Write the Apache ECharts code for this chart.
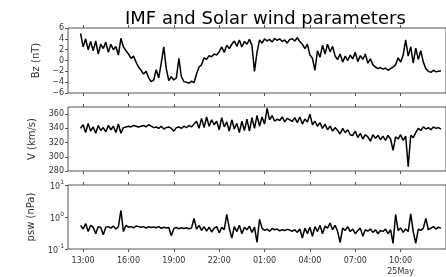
<!DOCTYPE html>
<html>
<head>
    <meta charset="utf-8" />
    <script src="https://cdn.jsdelivr.net/npm/echarts@6/dist/echarts.min.js"></script>
    <style type="text/css">
        html,
        body {
            width: 100%;
            height: 100%;
            margin: 0;
            background: #fff;
        }

        #main {
            width: 446px;
            height: 277px;
        }
    </style>
</head>
<body>
    <div id="main"></div>
    <script>
        // hours since 24 May 12:00, one sample every 10 min
        var startHour = 50 / 60;
        var stepHour = 1 / 6;

        var tickHours = [1, 4, 7, 10, 13, 16, 19, 22];
        var tickLabels = ['13:00', '16:00', '19:00', '22:00', '01:00', '04:00', '07:00', '10:00\n25May'];

        var bz = [
            5.0, 2.5, 4.0, 2.0, 3.5, 1.8,
            3.6, 1.2, 3.0, 2.2, 3.4, 1.5,
            3.0, 2.0, 2.6, 1.0, 4.1, 2.5,
            1.8, 1.2, 0.4, 0.8, -0.3, -1.2,
            -1.8, -2.5, -2.0, -3.2, -3.9, -3.6,
            -1.7, -3.2, -0.5, 2.5, -1.5, -3.7,
            -3.0, -3.6, -3.2, 0.4, -3.0, -3.9,
            -4.0, -4.2, -3.8, -4.1, -2.5, -1.2,
            -0.8, 0.5, 0.2, 0.9, 0.7, 1.2,
            1.0, 1.6, 2.5, 1.5, 2.8, 2.2,
            3.0, 3.6, 2.6, 3.8, 2.5, 3.5,
            3.0, 3.9, 2.8, -2.0, 1.5, 3.8,
            3.2, 4.0, 3.6, 3.9, 3.4, 4.1,
            3.7, 4.0, 3.5, 3.8, 3.2, 3.9,
            4.0, 3.6, 4.2, 3.5, 3.0, 2.2,
            3.0, 1.0, 0.4, -1.8, 1.8, 0.6,
            2.8, 1.2, 3.0, 1.6, 2.6, 0.8,
            0.2, 1.2, -0.3, 0.8, 0.0, 1.0,
            0.3, 1.5, -0.2, 0.9, 0.2, 1.2,
            -0.5, 0.3, -0.8, -1.2, -1.5, -1.3,
            -1.6, -1.4, -1.8, -1.5, -1.2, -0.8,
            0.5, -0.3, 1.0, 3.8, 0.8, 2.5,
            -0.5, 2.3, 0.2, 1.8, -0.3, -1.5,
            -2.0, -2.2, -1.8, -2.1, -2.0, -1.9
        ];

        var speed = [
            340, 345, 334, 347, 336, 342,
            333, 344, 337, 341, 335, 344,
            338, 343, 334, 346, 333, 341,
            342, 343, 342, 344, 343, 342,
            343, 344, 342, 345, 343, 341,
            342, 340, 343, 339, 341, 342,
            340, 336, 341, 342, 340, 343,
            341, 344, 342, 346, 350, 340,
            354, 341, 356, 343, 352, 345,
            350, 338, 355, 342, 349, 336,
            352, 339, 347, 334, 350, 337,
            353, 336, 355, 340, 358, 343,
            356, 346, 368, 352, 358, 350,
            353, 351, 356, 349, 354, 352,
            350, 355, 348, 356, 346, 353,
            349, 360, 345, 350, 343, 348,
            340, 346, 338, 343, 336, 341,
            337, 332, 340, 334, 338, 331,
            330, 336, 327, 333, 325, 331,
            328, 322, 331, 326, 330, 324,
            329, 323, 330, 325, 309, 328,
            325, 331, 323, 329, 286, 330,
            327, 334, 340, 337, 342, 339,
            341, 338, 342, 340, 341, 339
        ];

        var psw = [
            0.55, 0.42, 0.62, 0.35, 0.55, 0.48,
            0.30, 0.50, 0.47, 0.28, 0.48, 0.50,
            0.45, 0.52, 0.42, 0.50, 1.60, 0.35,
            0.55, 0.48, 0.50, 0.46, 0.52, 0.50,
            0.48, 0.50, 0.45, 0.50, 0.47, 0.49,
            0.46, 0.50, 0.44, 0.48, 0.45, 0.47,
            0.26, 0.44, 0.47, 0.43, 0.46, 0.44,
            0.46, 0.43, 0.45, 0.90, 0.42, 0.55,
            0.38, 0.50, 0.36, 0.48, 0.34, 0.45,
            0.50, 0.32, 0.48, 0.40, 1.20, 0.45,
            0.22, 0.50, 0.35, 0.55, 0.30, 0.48,
            0.40, 0.52, 0.33, 0.48, 0.16, 0.85,
            0.45, 0.38, 0.42, 0.36, 0.44, 0.40,
            0.42, 0.37, 0.40, 0.38, 0.41, 0.39,
            0.36, 0.40, 0.33, 0.42, 0.22, 0.45,
            0.30, 0.48, 0.25, 0.50, 0.35, 0.55,
            0.30, 0.52, 0.45, 0.65, 0.40, 0.55,
            0.35, 0.16, 0.45, 0.38, 0.50, 0.35,
            0.42, 0.30, 0.38, 0.45, 0.25, 0.40,
            0.36, 0.42, 0.33, 0.40, 0.30, 0.38,
            0.35, 0.42, 0.30, 0.40, 0.15, 1.20,
            0.38, 0.45, 0.33, 0.42, 0.35, 1.25,
            0.35, 0.15, 0.42, 0.38, 0.45, 0.90,
            0.40, 0.45, 0.50, 0.42, 0.48, 0.45
        ];

        function pairs(vals) {
            return vals.map(function (v, i) {
                return [startHour + i * stepHour, v];
            });
        }

        var font = 'DejaVu Sans';
        var txt = '#333';
        var frame = '#555';

        function xAxisFor(idx, pos, labels) {
            return {
                type: 'value',
                gridIndex: idx,
                position: pos,
                min: 0,
                max: 25,
                axisLine: { show: false, onZero: false },
                splitLine: { show: false },
                axisTick: { length: 3, customValues: tickHours, lineStyle: { color: frame } },
                axisLabel: {
                    show: labels,
                    customValues: tickHours,
                    margin: 6,
                    fontFamily: font,
                    fontSize: 8,
                    color: txt,
                    lineHeight: 11,
                    formatter: function (v) {
                        var k = tickHours.indexOf(Math.round(v));
                        return k >= 0 ? tickLabels[k] : '';
                    }
                }
            };
        }

        var yName = {
            nameLocation: 'middle',
            nameRotate: 90,
            nameTextStyle: { fontFamily: font, fontSize: 10, color: txt }
        };

        var chart = echarts.init(document.getElementById('main'), null, { renderer: 'canvas' });
        var option = {
            animation: false,
            backgroundColor: '#fff',
            title: {
                text: 'IMF and Solar wind parameters',
                left: 120,
                top: 5,
                textStyle: { fontFamily: font, fontSize: 18, fontWeight: 'normal', color: '#000' }
            },
            grid: [
                { left: 68, right: -11, top: 28, height: 65, show: true, borderColor: frame, borderWidth: 1 },
                { left: 68, right: -11, top: 107, height: 64, show: true, borderColor: frame, borderWidth: 1 },
                { left: 68, right: -11, top: 185, height: 65, show: true, borderColor: frame, borderWidth: 1 }
            ],
            xAxis: [
                xAxisFor(0, 'bottom', false), xAxisFor(0, 'top', false),
                xAxisFor(1, 'bottom', false), xAxisFor(1, 'top', false),
                xAxisFor(2, 'bottom', true), xAxisFor(2, 'top', false)
            ],
            yAxis: [
                Object.assign({
                    type: 'value', gridIndex: 0, min: -6, max: 6, interval: 2,
                    name: 'Bz (nT)', nameGap: 27,
                    axisLine: { show: false, onZero: false }, splitLine: { show: false },
                    axisTick: { length: 3, lineStyle: { color: frame } },
                    axisLabel: {
                        margin: 4, fontFamily: font, fontSize: 8, color: txt,
                        formatter: function (v) { return String(v).replace('-', '\u2212'); }
                    }
                }, yName),
                Object.assign({
                    type: 'value', gridIndex: 1, min: 280, max: 370, interval: 20,
                    name: 'V (km/s)', nameGap: 30,
                    axisLine: { show: false, onZero: false }, splitLine: { show: false },
                    axisTick: { length: 3, customValues: [280, 300, 320, 340, 360], lineStyle: { color: frame } },
                    axisLabel: {
                        margin: 4, fontFamily: font, fontSize: 8, color: txt,
                        customValues: [280, 300, 320, 340, 360]
                    }
                }, yName),
                Object.assign({
                    type: 'log', gridIndex: 2, min: 0.1, max: 10, logBase: 10,
                    name: 'psw (nPa)', nameGap: 32,
                    axisLine: { show: false, onZero: false }, splitLine: { show: false },
                    axisTick: { length: 3, lineStyle: { color: frame } },
                    axisLabel: {
                        margin: 4, fontFamily: font, fontSize: 8, color: txt,
                        formatter: function (v) {
                            var e = Math.round(Math.log(v) / Math.LN10);
                            return '{b|10}{s|' + e + '}';
                        },
                        rich: {
                            b: { fontFamily: font, fontSize: 8, color: txt, lineHeight: 12, verticalAlign: 'bottom' },
                            s: { fontFamily: font, fontSize: 6, color: txt, lineHeight: 12, verticalAlign: 'top' }
                        }
                    }
                }, yName)
            ],
            series: [
                { type: 'line', xAxisIndex: 0, yAxisIndex: 0, data: pairs(bz), showSymbol: false, lineStyle: { color: '#000', width: 1.5 } },
                { type: 'line', xAxisIndex: 2, yAxisIndex: 1, data: pairs(speed), showSymbol: false, lineStyle: { color: '#000', width: 1.5 } },
                { type: 'line', xAxisIndex: 4, yAxisIndex: 2, data: pairs(psw), showSymbol: false, lineStyle: { color: '#000', width: 1.5 } }
            ]
        };
        chart.setOption(option);
    </script>
</body>
</html>
